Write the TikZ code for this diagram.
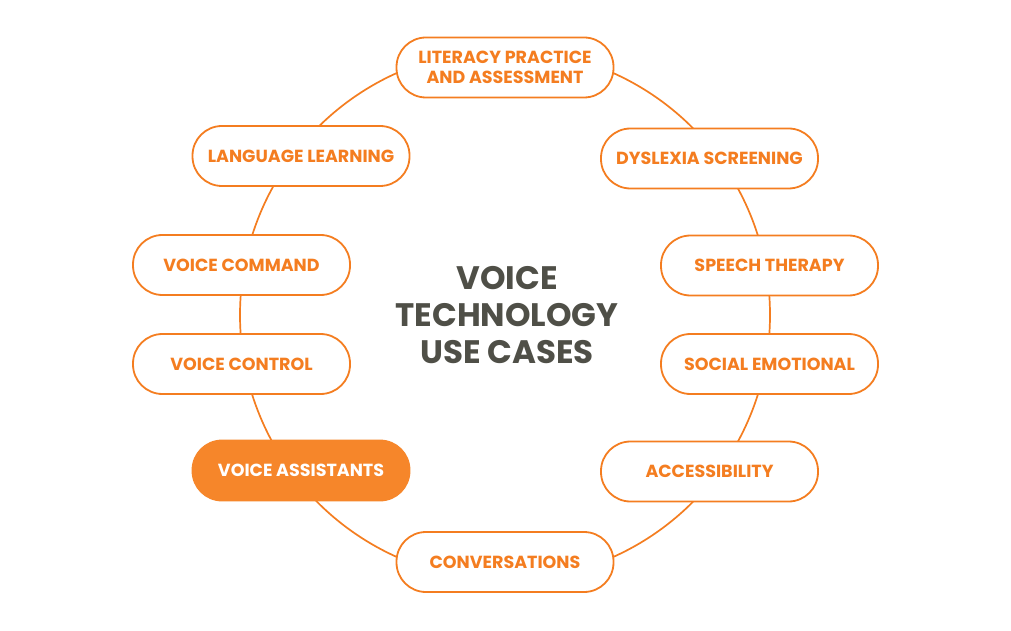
\documentclass[tikz,border=0pt]{standalone}
\usepackage{fontspec}
\setmainfont{Poppins}
\definecolor{vorange}{HTML}{F47D20}
\definecolor{vfill}{HTML}{F6862A}
\definecolor{vgray}{HTML}{4F4F47}
\tikzset{
  usecase/.style={draw=vorange, line width=1.8pt, fill=white, rounded corners=29.5pt,
    minimum width=217pt, minimum height=60pt, inner sep=0pt, align=center,
    text=vorange, font=\fontsize{17.5}{20}\selectfont\bfseries},
  usecasefilled/.style={usecase, fill=vfill, draw=vfill, text=white},
  ring/.style={draw=vorange, line width=1.7pt},
  titletext/.style={text=vgray, align=center, font=\fontsize{32.5}{37}\selectfont\bfseries}
}
\begin{document}
\begin{tikzpicture}[x=1pt,y=1pt]
\useasboundingbox[fill=white] (0,0) rectangle (1011,630);
\coordinate (c) at (505,315);
\draw[ring] (c) circle[radius=265];
\node[usecase] (lit) at (505,562.5) {LITERACY PRACTICE\\AND ASSESSMENT};
\node[usecase] (lang) at (301,474) {LANGUAGE LEARNING};
\node[usecase] (cmd) at (241.5,365) {VOICE COMMAND};
\node[usecase] (ctrl) at (241.5,266) {VOICE CONTROL};
\node[usecasefilled] (asst) at (301,159.5) {VOICE ASSISTANTS};
\node[usecase] (conv) at (505,68) {CONVERSATIONS};
\node[usecase] (dys) at (709.5,471.5) {DYSLEXIA SCREENING};
\node[usecase] (speech) at (769.5,364.5) {SPEECH THERAPY};
\node[usecase] (social) at (769.5,266) {SOCIAL EMOTIONAL};
\node[usecase] (acc) at (709.5,158.5) {ACCESSIBILITY};
\node[titletext] (title) at (507,315) {VOICE\\TECHNOLOGY\\USE CASES};
\end{tikzpicture}
\end{document}
